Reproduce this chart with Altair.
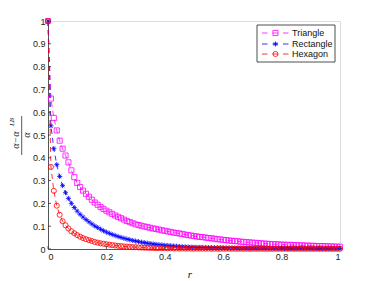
import altair as alt
import pandas as pd

# sampling positions r = 0.00 .. 1.00 (step 0.01)
r_values = [i / 100 for i in range(101)]

triangle = [
    1.0, 0.66, 0.575, 0.52, 0.475, 0.44, 0.41, 0.38, 0.345, 0.315, 0.29,
    0.272, 0.256, 0.242, 0.229, 0.216, 0.204, 0.194, 0.184, 0.176, 0.168,
    0.161, 0.154, 0.147, 0.141, 0.135, 0.129, 0.123, 0.118, 0.113, 0.108,
    0.105, 0.102, 0.099, 0.096, 0.093, 0.090, 0.088, 0.085, 0.082, 0.080,
    0.077, 0.075, 0.072, 0.070, 0.068, 0.066, 0.063, 0.061, 0.059, 0.057,
    0.055, 0.053, 0.052, 0.050, 0.048, 0.047, 0.045, 0.043, 0.042, 0.040,
    0.039, 0.037, 0.036, 0.035, 0.034, 0.032, 0.031, 0.030, 0.029, 0.028,
    0.027, 0.026, 0.025, 0.024, 0.023, 0.022, 0.021, 0.021, 0.020, 0.019,
    0.019, 0.018, 0.018, 0.017, 0.017, 0.016, 0.016, 0.015, 0.015, 0.014,
    0.014, 0.013, 0.013, 0.013, 0.012, 0.012, 0.011, 0.011, 0.010, 0.010,
]

rectangle = [
    1.0, 0.54, 0.44, 0.37, 0.318, 0.278, 0.247, 0.222, 0.200, 0.182, 0.166,
    0.152, 0.140, 0.129, 0.119, 0.110, 0.101, 0.094, 0.087, 0.080, 0.074,
    0.0686, 0.0636, 0.059, 0.0547, 0.0507, 0.047, 0.0436, 0.0404, 0.0375, 0.0347,
    0.0322, 0.0298, 0.0277, 0.0257, 0.0238, 0.0221, 0.0205, 0.019, 0.0176, 0.0163,
    0.0151, 0.014, 0.013, 0.0121, 0.0112, 0.0104, 0.0096, 0.0089, 0.0083, 0.0077,
    0.0074, 0.0071, 0.0068, 0.0066, 0.0063, 0.0061, 0.0059, 0.0057, 0.0055, 0.0053,
    0.0051, 0.0049, 0.0048, 0.0046, 0.0045, 0.0043, 0.0042, 0.0041, 0.0039, 0.0038,
    0.0037, 0.0036, 0.0035, 0.0034, 0.0033, 0.0032, 0.0031, 0.0030, 0.0030, 0.0029,
    0.0028, 0.0027, 0.0027, 0.0026, 0.0025, 0.0025, 0.0024, 0.0024, 0.0023, 0.0023,
    0.0022, 0.0022, 0.0021, 0.0021, 0.0021, 0.0020, 0.0020, 0.0020, 0.0019, 0.0019,
]

hexagon = [
    1.0, 0.36, 0.255, 0.19, 0.15, 0.122, 0.104, 0.09, 0.078, 0.069, 0.061,
    0.054, 0.048, 0.043, 0.039, 0.035, 0.031, 0.028, 0.025, 0.023, 0.021,
    0.019, 0.017, 0.0155, 0.014, 0.0127, 0.0115, 0.0104, 0.0094, 0.0085, 0.0077,
    0.007, 0.0064, 0.0058, 0.0053, 0.0048, 0.0044, 0.004, 0.0037, 0.0034, 0.0031,
    0.0029, 0.0027, 0.0025, 0.0023, 0.0021, 0.002, 0.0019, 0.0018, 0.0017, 0.0016,
    0.0016, 0.0015, 0.0015, 0.0014, 0.0014, 0.0014, 0.0013, 0.0013, 0.0013, 0.0012,
    0.0012, 0.0012, 0.0012, 0.0011, 0.0011, 0.0011, 0.0011, 0.0010, 0.0010, 0.0010,
    0.0010, 0.0010, 0.0010, 0.0009, 0.0009, 0.0009, 0.0009, 0.0009, 0.0009, 0.0009,
    0.0009, 0.0009, 0.0009, 0.0009, 0.0008, 0.0008, 0.0008, 0.0008, 0.0008, 0.0008,
    0.0008, 0.0008, 0.0008, 0.0008, 0.0008, 0.0008, 0.0008, 0.0008, 0.0008, 0.0008,
]

series_names = ["Triangle", "Rectangle", "Hexagon"]
series_colors = ["#ff00ff", "#0000ff", "#ff0000"]
asterisk = "M-1,0L1,0M0,-1L0,1M-0.7,-0.7L0.7,0.7M-0.7,0.7L0.7,-0.7"
series_shapes = ["square", asterisk, "circle"]

y_ticks = [0, 0.1, 0.2, 0.3, 0.4, 0.5, 0.6, 0.7, 0.8, 0.9, 1]
x_ticks = [0, 0.2, 0.4, 0.6, 0.8, 1]

rows = []
for name, vals in zip(series_names, [triangle, rectangle, hexagon]):
    for r, v in zip(r_values, vals):
        rows.append({"r": r, "v": v, "series": name})
df = pd.DataFrame(rows)

axis_common = dict(
    domainColor="#333333", domainWidth=0.8, ticks=False, grid=False,
    labelFont="Liberation Sans", labelFontSize=9, labelColor="#222222",
)

x_scale = alt.Scale(domain=[0, 1], nice=False)
y_scale = alt.Scale(domain=[0, 1], nice=False)
x_enc = alt.X("r:Q", scale=x_scale,
              axis=alt.Axis(values=x_ticks, format="~g", labelPadding=3, title=None, **axis_common))
y_enc = alt.Y("v:Q", scale=y_scale,
              axis=alt.Axis(values=y_ticks, format="~g", labelPadding=3, title=None, **axis_common))

layers = []
for name, color, shape in zip(series_names, series_colors, series_shapes):
    base = alt.Chart(df).transform_filter(alt.datum.series == name)
    layers.append(base.mark_line(color=color, strokeWidth=0.8, strokeDash=[5, 4]).encode(x=x_enc, y=y_enc))
    layers.append(base.mark_point(shape=shape, filled=False, size=26, strokeWidth=0.8,
                                  color=color, opacity=1).encode(x=x_enc, y=y_enc))

# inward tick marks (MATLAB style)
ytick_df = pd.DataFrame({"v": y_ticks})
xtick_df = pd.DataFrame({"r": x_ticks})
layers.append(alt.Chart(ytick_df).mark_rule(color="#333333", strokeWidth=0.8).encode(
    y=y_enc, x=alt.value(0), x2=alt.value(3)))
layers.append(alt.Chart(xtick_df).mark_rule(color="#333333", strokeWidth=0.8).encode(
    x=x_enc, y=alt.value(228), y2=alt.value(225)))

one = pd.DataFrame({"a": [0]})

# legend box
layers.append(alt.Chart(one).mark_rect(fill="white", stroke="#222222", strokeWidth=0.8).encode(
    x=alt.value(209), x2=alt.value(287), y=alt.value(4), y2=alt.value(41)))
legend_rows_y = [12, 23, 33]
for name, color, shape, ly in zip(series_names, series_colors, series_shapes, legend_rows_y):
    layers.append(alt.Chart(one).mark_rule(color=color, strokeWidth=0.8, strokeDash=[5.5, 5]).encode(
        x=alt.value(214), x2=alt.value(241), y=alt.value(ly)))
    layers.append(alt.Chart(one).mark_point(shape=shape, filled=False, size=26, strokeWidth=0.8,
                                            color=color, opacity=1).encode(
        x=alt.value(227.5), y=alt.value(ly)))
    layers.append(alt.Chart(one).mark_text(text=name, align="left", baseline="middle",
                                           font="Liberation Sans", fontSize=9, color="#111111").encode(
        x=alt.value(244), y=alt.value(ly)))

# y-axis title: (alpha - alpha^LB) / alpha, rotated
serif = dict(font="Liberation Serif", fontStyle="italic", color="#111111", angle=270,
             align="center", baseline="middle")
layers.append(alt.Chart(one).mark_text(text="α−α", fontSize=10, **serif).encode(
    x=alt.value(-32), y=alt.value(119)))
layers.append(alt.Chart(one).mark_text(text="LB", fontSize=7, **serif).encode(
    x=alt.value(-36.5), y=alt.value(101)))
layers.append(alt.Chart(one).mark_rule(color="#111111", strokeWidth=0.7).encode(
    x=alt.value(-26.3), y=alt.value(95), y2=alt.value(134)))
layers.append(alt.Chart(one).mark_text(text="α", fontSize=10, **serif).encode(
    x=alt.value(-21.5), y=alt.value(114)))

# x-axis title
layers.append(alt.Chart(one).mark_text(text="r", fontSize=11, font="Liberation Serif",
                                       fontStyle="italic", color="#111111",
                                       align="center", baseline="middle").encode(
    x=alt.value(142), y=alt.value(254)))

chart = alt.layer(*layers).properties(
    width=292, height=228,
    padding={"left": 40, "top": 13, "right": 26, "bottom": 30},
    autosize=alt.AutoSizeParams(type="none"),
).configure_view(strokeWidth=0).configure(background="white")

chart.save("out.html", embed_options={"renderer": "svg", "actions": False})
